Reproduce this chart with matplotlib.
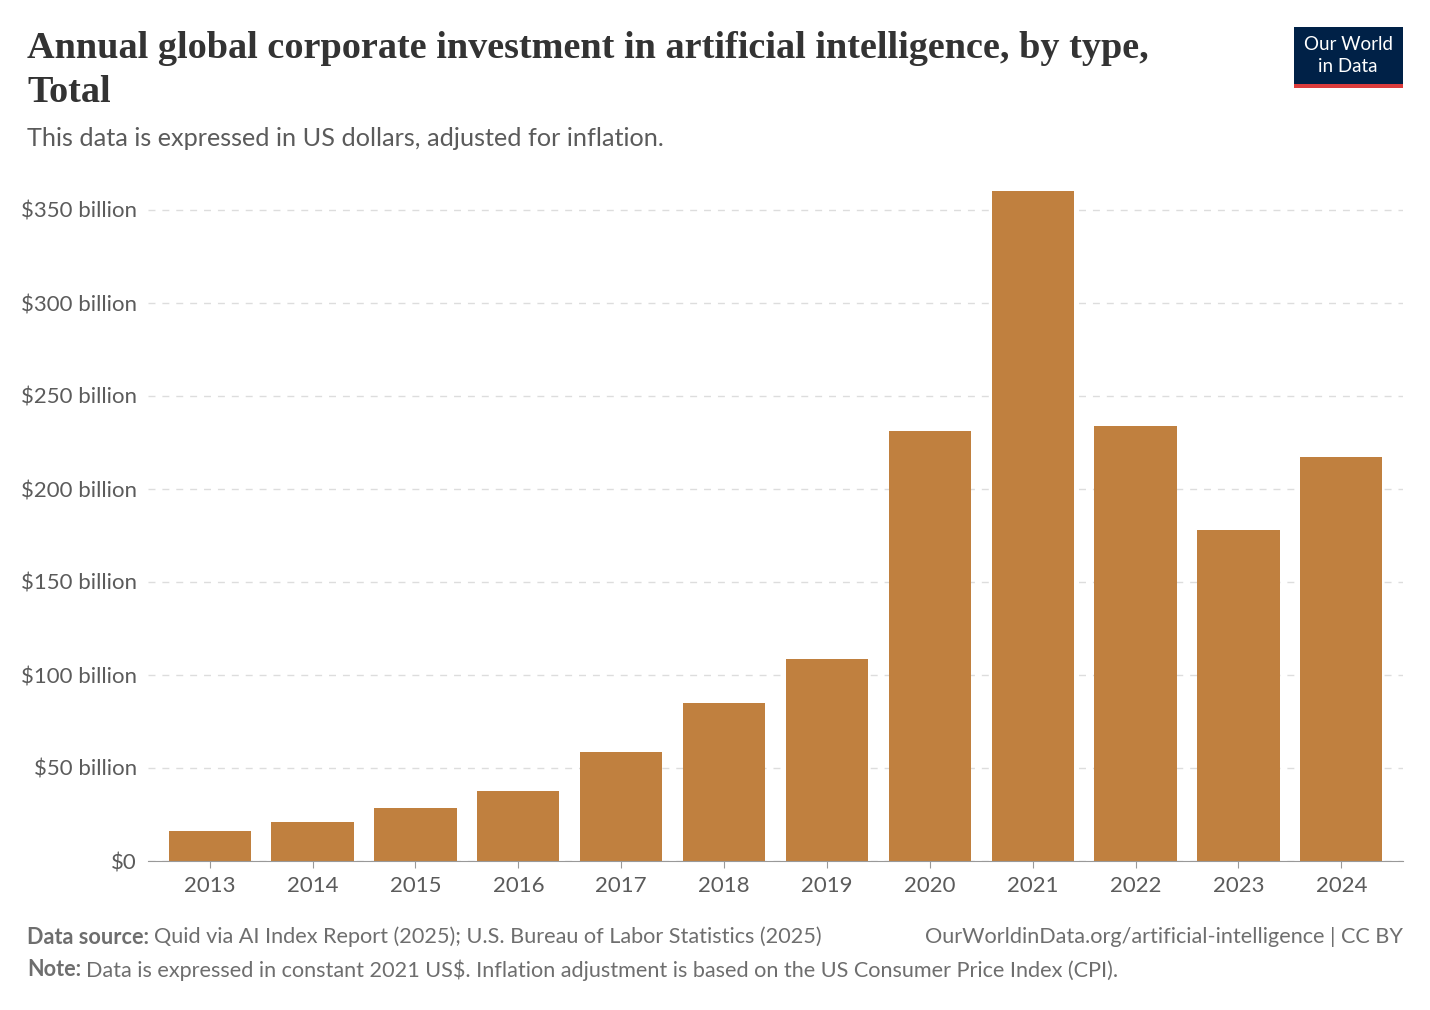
import matplotlib
matplotlib.use("Agg")
import matplotlib.pyplot as plt
from matplotlib.patches import Rectangle

years = ["2013","2014","2015","2016","2017","2018","2019","2020","2021","2022","2023","2024"]
values = [16.1, 21.0, 28.5, 37.6, 58.6, 84.9, 108.6, 231.2, 360.2, 233.9, 178.0, 217.2]
yticks = [0, 50, 100, 150, 200, 250, 300, 350]
ytick_labels = ["$0", "$50 billion", "$100 billion", "$150 billion", "$200 billion",
                "$250 billion", "$300 billion", "$350 billion"]

plt.rcParams['font.family'] = ['Lato', 'DejaVu Sans']
W, H = 1430, 1010
fig = plt.figure(figsize=(W/100, H/100), dpi=100)
ax = fig.add_axes([148/W, 1-861/H, (1403-148)/W, (861-150)/H])
ax.bar(range(len(years)), values, width=0.8, color="#c0803f", zorder=2)
ax.set_xlim(-0.6, len(years)-0.4)
ax.set_ylim(0, 350*(861-150)/(861-210))
ax.set_yticks(yticks)
ax.set_yticklabels(ytick_labels, fontsize=16, color="#5b5b5b")
ax.set_xticks(range(len(years)))
ax.set_xticklabels(years, fontsize=16, color="#5b5b5b")
ax.tick_params(axis='y', length=0, pad=8)
ax.tick_params(axis='x', length=5, color="#999999", pad=6)
for s in ["top", "right", "left"]:
    ax.spines[s].set_visible(False)
ax.spines["bottom"].set_color("#999999")
ax.grid(axis='y', linestyle=(0, (5, 5)), color="#dddddd", linewidth=1, zorder=0)

fig.text(27/W, 1-48/H, "Annual global corporate investment in artificial intelligence, by type,",
         fontsize=27.5, family=['Liberation Serif', 'DejaVu Serif'], fontweight='bold', color="#333333", va='center')
fig.text(27/W, 1-93/H, "Total", fontsize=27.5, family=['Liberation Serif', 'DejaVu Serif'],
         fontweight='bold', color="#333333", va='center')
fig.text(27/W, 1-139/H, "This data is expressed in US dollars, adjusted for inflation.",
         fontsize=18.2, color="#5b5b5b", va='center')

fig.patches.append(Rectangle((1294/W, 1-88/H), 109/W, 61/H, transform=fig.transFigure,
                             facecolor="#002147", edgecolor='none'))
fig.patches.append(Rectangle((1294/W, 1-88/H), 109/W, 4/H, transform=fig.transFigure,
                             facecolor="#dc3c3c", edgecolor='none'))
fig.text(1348/W, 1-45/H, "Our World", fontsize=13.5, color="white", ha='center', va='center')
fig.text(1348/W, 1-66/H, "in Data", fontsize=13.5, color="white", ha='center', va='center')

fig.canvas.draw()
r = fig.canvas.get_renderer()
def pair(y, bold, rest):
    t = fig.text(27/W, 1-y/H, bold, fontsize=15.6, color="#6e6e6e", va='center', fontweight='bold')
    w = t.get_window_extent(r).width
    fig.text((27+w+5)/W, 1-y/H, rest, fontsize=15.6, color="#6e6e6e", va='center')
pair(937, "Data source:", "Quid via AI Index Report (2025); U.S. Bureau of Labor Statistics (2025)")
pair(970, "Note:", "Data is expressed in constant 2021 US$. Inflation adjustment is based on the US Consumer Price Index (CPI).")
fig.text(1403/W, 1-937/H, "OurWorldinData.org/artificial-intelligence | CC BY",
         fontsize=15.6, color="#6e6e6e", va='center', ha='right')
fig.savefig("out.png", dpi=100, facecolor="white")
